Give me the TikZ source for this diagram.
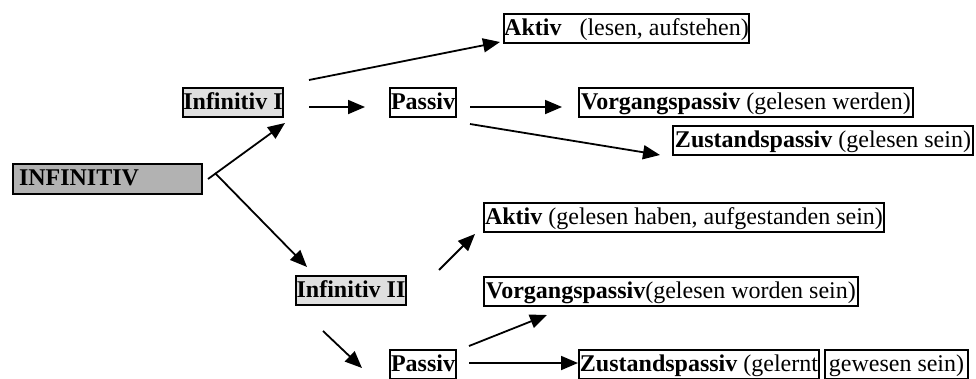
\documentclass[tikz,border=0pt]{standalone}
\usepackage{fontspec}
\setmainfont{Liberation Serif}
\usetikzlibrary{arrows.meta,calc}
\begin{document}
\begin{tikzpicture}[x=1pt,y=-1pt,
  box/.style={draw=black, line width=2pt, inner sep=0pt, anchor=north west,
    minimum height=29pt, text height=18.5pt, text depth=5pt,
    font=\fontsize{24}{28}\selectfont, text=black},
  arr/.style={line width=1.8pt, -{Triangle[length=17pt,width=14pt]}},
]
\useasboundingbox (0,0) rectangle (976,378);
% nodes
\node[box, fill=gray!60, minimum width=189pt, minimum height=30pt, text width=177pt, align=left] (infin) at (12,163) {\textbf{INFINITIV}};
\node[box, fill=gray!25, minimum width=100pt] (inf1) at (182,87) {\textbf{Infinitiv I}};
\node[box, minimum width=66pt] (pas1) at (389,87) {\textbf{Passiv}};
\node[box, minimum width=245pt] (akt1) at (503,13) {\textbf{Aktiv}~~~(lesen, aufstehen)};
\node[box, minimum width=334pt] (vorg1) at (578,87) {\textbf{Vorgangspassiv} (gelesen werden)};
\node[box, minimum width=300pt] (zust1) at (672,125) {\textbf{Zustandspassiv} (gelesen sein)};
\node[box, fill=gray!25, minimum width=110pt] (inf2) at (295,275) {\textbf{Infinitiv II}};
\node[box, minimum width=400pt] (akt2) at (483,202) {\textbf{Aktiv} (gelesen haben, aufgestanden sein)};
\node[box, minimum width=374pt] (vorg2) at (483,276) {\textbf{Vorgangspassiv}(gelesen worden sein)};
\node[box, minimum width=66pt] (pas2) at (389,349) {\textbf{Passiv}};
\node[box, minimum width=240pt] (zust2a) at (578,349) {\textbf{Zustandspassiv} (gelernt};
\node[box, minimum width=143pt] (zust2b) at (824,349) {gewesen sein)};
% connectors
\draw[arr] ($(infin.east)+(5,0)$) -- ($(inf1.south east)+(1,5)$);
\draw[arr] ($(infin.east)+(12,-6)$) -- ($(inf2.north west)+(12,-8)$);
\draw[arr] ($(inf1.north east)+(25,-7)$) -- ($(akt1.south west)+(-3,-2)$);
\draw[arr] ($(inf1.east)+(25,4.5)$) -- ($(pas1.west)+(-24,4.5)$);
\draw[arr] ($(pas1.east)+(13,4.5)$) -- ($(vorg1.west)+(-16,4.5)$);
\draw[arr] ($(pas1.south east)+(13,6)$) -- ($(zust1.south west)+(-12,-1)$);
\draw[arr] ($(inf2.north east)+(32,-5)$) -- ($(akt2.south west)+(-8,1)$);
\draw[arr] ($(inf2.south west)+(28,25)$) -- ($(pas2.west)+(-27,3.5)$);
\draw[arr] ($(pas2.north east)+(12,-3)$) -- ($(vorg2.south west)+(64,8)$);
\draw[arr] ($(pas2.east)+(12,-1.5)$) -- ($(zust2a.west)+(0,-1.5)$);
\end{tikzpicture}
\end{document}
